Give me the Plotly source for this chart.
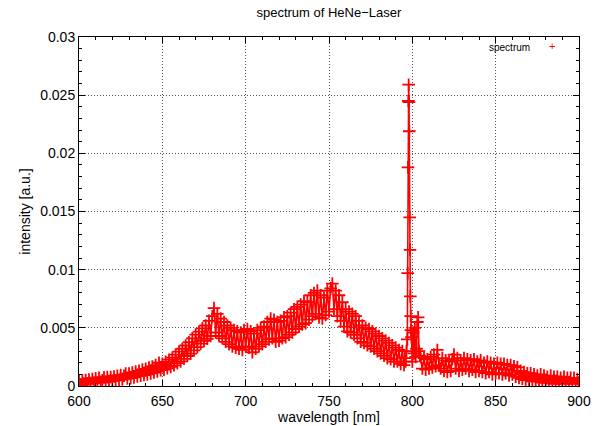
import plotly.graph_objects as go

wavelength = (
    list(range(600, 796))
    + [795.5, 796.0, 796.5, 797.0, 797.2, 797.4, 797.6, 797.8, 798.0, 798.2,
       798.4, 798.6, 798.8, 799.0, 799.2, 799.5, 800.0, 800.5, 801.0, 801.5,
       802.0, 802.5, 803.0, 803.5, 804.0, 804.5]
    + list(range(805, 901))
)

intensity = [
    # 600-649
    4.5e-4, 1.5e-4, 4.8e-4, 2.0e-4, 5.2e-4, 2.4e-4, 5.6e-4, 2.6e-4, 6.0e-4, 3.0e-4,
    6.6e-4, 3.2e-4, 7.0e-4, 3.6e-4, 5.0e-4, 7.4e-4, 3.8e-4, 7.6e-4, 4.2e-4, 7.8e-4,
    4.4e-4, 8.2e-4, 5.0e-4, 8.8e-4, 5.2e-4, 9.4e-4, 5.6e-4, 8.8e-4, 10.6e-4, 6.4e-4,
    10.8e-4, 6.8e-4, 11.6e-4, 7.4e-4, 12.4e-4, 8.2e-4, 13.0e-4, 8.8e-4, 14.2e-4, 9.4e-4,
    14.8e-4, 10.0e-4, 15.8e-4, 10.8e-4, 16.8e-4, 11.6e-4, 18.0e-4, 12.4e-4, 20.0e-4, 13.6e-4,
    # 650-679
    19.0e-4, 14.0e-4, 20.8e-4, 15.2e-4, 22.6e-4, 16.4e-4, 24.4e-4, 17.8e-4, 27.0e-4, 19.6e-4,
    29.6e-4, 21.2e-4, 32.0e-4, 23.4e-4, 34.8e-4, 25.8e-4, 37.6e-4, 27.8e-4, 41.0e-4, 30.6e-4,
    44.2e-4, 33.4e-4, 46.8e-4, 36.4e-4, 49.6e-4, 38.8e-4, 52.0e-4, 40.6e-4, 56.0e-4, 43.0e-4,
    # 680-769
    60.0e-4, 67.0e-4, 46.0e-4, 62.0e-4, 43.0e-4, 58.0e-4, 41.0e-4, 55.0e-4, 38.0e-4, 52.0e-4,
    36.0e-4, 50.0e-4, 34.0e-4, 48.0e-4, 33.0e-4, 47.0e-4, 32.0e-4, 46.0e-4, 31.0e-4, 48.0e-4,
    34.0e-4, 49.0e-4, 33.0e-4, 47.0e-4, 29.0e-4, 45.0e-4, 32.0e-4, 48.0e-4, 34.0e-4, 50.0e-4,
    36.0e-4, 51.0e-4, 38.0e-4, 55.0e-4, 40.0e-4, 58.0e-4, 41.0e-4, 57.0e-4, 38.0e-4, 55.0e-4,
    39.0e-4, 56.0e-4, 41.0e-4, 59.0e-4, 42.0e-4, 60.0e-4, 44.0e-4, 63.0e-4, 46.0e-4, 66.0e-4,
    49.0e-4, 68.0e-4, 51.0e-4, 70.0e-4, 53.0e-4, 73.0e-4, 54.0e-4, 72.0e-4, 57.0e-4, 78.0e-4,
    60.0e-4, 80.0e-4, 62.0e-4, 82.0e-4, 59.0e-4, 78.0e-4, 58.0e-4, 76.0e-4, 61.0e-4, 82.0e-4,
    64.0e-4, 84.0e-4, 88.0e-4, 66.0e-4, 82.0e-4, 60.0e-4, 78.0e-4, 56.0e-4, 72.0e-4, 51.0e-4,
    66.0e-4, 47.0e-4, 64.0e-4, 46.0e-4, 62.0e-4, 44.0e-4, 60.0e-4, 41.0e-4, 56.0e-4, 38.0e-4,
    # 770-795
    52.0e-4, 37.0e-4, 50.0e-4, 35.0e-4, 49.0e-4, 34.0e-4, 47.0e-4, 32.0e-4, 45.0e-4, 30.0e-4,
    43.0e-4, 28.0e-4, 41.0e-4, 26.0e-4, 39.0e-4, 24.0e-4, 37.0e-4, 23.0e-4, 35.0e-4, 21.0e-4,
    33.0e-4, 21.0e-4, 31.0e-4, 19.0e-4, 30.0e-4, 18.0e-4,
    # 795.5-804.5 (laser line)
    24.0e-4, 21.0e-4, 30.0e-4, 40.0e-4, 97.0e-4, 188.0e-4, 245.0e-4, 259.0e-4, 244.0e-4, 219.0e-4,
    145.0e-4, 117.0e-4, 77.0e-4, 60.0e-4, 48.0e-4, 42.0e-4, 21.0e-4, 46.0e-4, 28.0e-4, 50.0e-4,
    25.0e-4, 32.0e-4, 55.0e-4, 59.0e-4, 30.0e-4, 26.0e-4,
    # 805-864
    25.0e-4, 15.0e-4, 24.0e-4, 14.0e-4, 23.0e-4, 15.0e-4, 25.0e-4, 16.0e-4, 27.0e-4, 17.0e-4,
    31.0e-4, 18.0e-4, 15.0e-4, 24.0e-4, 13.0e-4, 22.0e-4, 12.0e-4, 21.0e-4, 13.0e-4, 23.0e-4,
    27.0e-4, 15.0e-4, 24.0e-4, 13.0e-4, 22.0e-4, 14.0e-4, 24.0e-4, 15.0e-4, 23.0e-4, 13.0e-4,
    22.0e-4, 14.0e-4, 23.0e-4, 12.0e-4, 21.0e-4, 13.0e-4, 22.0e-4, 12.0e-4, 20.0e-4, 11.0e-4,
    21.0e-4, 12.0e-4, 20.0e-4, 10.0e-4, 19.0e-4, 11.0e-4, 20.0e-4, 11.0e-4, 19.0e-4, 10.0e-4,
    19.0e-4, 11.0e-4, 18.0e-4, 9.0e-4, 18.0e-4, 10.0e-4, 17.0e-4, 8.0e-4, 16.0e-4, 7.0e-4,
    # 865-900
    13.0e-4, 6.0e-4, 12.0e-4, 5.0e-4, 11.0e-4, 5.0e-4, 11.0e-4, 4.0e-4, 10.0e-4, 4.0e-4,
    9.0e-4, 4.0e-4, 10.0e-4, 3.0e-4, 9.0e-4, 3.0e-4, 8.0e-4, 3.0e-4, 9.0e-4, 2.0e-4,
    8.0e-4, 2.0e-4, 8.0e-4, 2.0e-4, 7.0e-4, 2.0e-4, 8.0e-4, 2.0e-4, 7.0e-4, 3.0e-4,
    7.0e-4, 2.0e-4, 7.0e-4, 2.0e-4, 6.0e-4, 3.0e-4,
]

x_ticks = [600, 650, 700, 750, 800, 850, 900]
y_ticks = [0, 0.005, 0.01, 0.015, 0.02, 0.025, 0.03]
y_tick_text = ["0", "0.005", "0.01", "0.015", "0.02", "0.025", "0.03"]

FONT = "Liberation Sans, Arial, sans-serif"

fig = go.Figure()
fig.add_trace(go.Scatter(
    x=wavelength, y=intensity, mode="lines+markers", name="spectrum",
    line=dict(color="#ff0000", width=1.6),
    marker=dict(symbol="cross-thin", size=9, color="#ff0000",
                line=dict(color="#ff0000", width=1.8)),
    showlegend=False,
))

axis_common = dict(
    showline=True, linecolor="black", linewidth=1, mirror="allticks",
    ticks="inside", ticklen=6, tickcolor="black",
    showgrid=True, gridcolor="#555555", griddash="1px,2px", gridwidth=1,
    zeroline=False, automargin=False,
    tickfont=dict(family=FONT, size=14, color="black"),
)

fig.update_xaxes(
    range=[600, 900], tickvals=x_ticks, ticklabelstandoff=2,
    minor=dict(ticks="inside", dtick=10, ticklen=3, tickcolor="black", showgrid=False),
    title=dict(text="wavelength [nm]", font=dict(family=FONT, size=14, color="black"), standoff=1),
    **axis_common,
)
fig.update_yaxes(
    range=[0, 0.03], tickvals=y_ticks, ticktext=y_tick_text,
    minor=dict(ticks="inside", dtick=0.001, ticklen=3, tickcolor="black", showgrid=False),
    title=dict(text="intensity [a.u.]", font=dict(family=FONT, size=14, color="black"), standoff=6),
    **axis_common,
)

fig.add_annotation(xref="paper", yref="paper", x=0.905, y=0.971, xanchor="right", yanchor="middle",
                   text="spectrum", showarrow=False, font=dict(family=FONT, size=10, color="black"))
fig.add_annotation(xref="paper", yref="paper", x=0.946, y=0.973, xanchor="center", yanchor="middle",
                   text="+", showarrow=False, font=dict(family=FONT, size=11, color="#ff0000"))

fig.update_layout(
    width=598, height=426,
    margin=dict(l=79, r=19, t=37, b=40),
    paper_bgcolor="white", plot_bgcolor="white",
    title=dict(text="spectrum of HeNe\u2212Laser", x=0.55, xanchor="center", y=0.97, yanchor="middle",
               font=dict(family=FONT, size=13, color="black")),
)

fig.write_html("out.html")
